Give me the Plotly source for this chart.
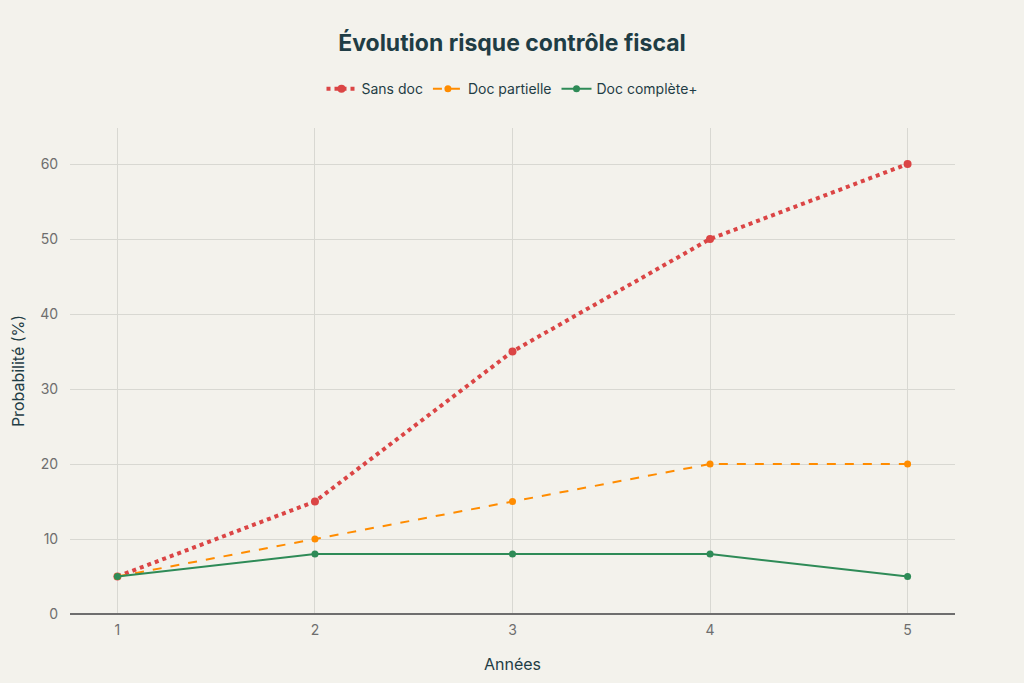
import plotly.graph_objects as go

years = [1, 2, 3, 4, 5]
sans_doc = [5, 15, 35, 50, 60]
doc_partielle = [5, 10, 15, 20, 20]
doc_complete = [5, 8, 8, 8, 5]

FONT = "Inter, Roboto, sans-serif"

fig = go.Figure()
fig.add_trace(go.Scatter(x=years, y=sans_doc, mode="lines+markers", name="Sans doc",
                         line=dict(color="#DB4545", width=4, dash="dot"),
                         marker=dict(size=8, color="#DB4545")))
fig.add_trace(go.Scatter(x=years, y=doc_partielle, mode="lines+markers", name="Doc partielle",
                         line=dict(color="#FF8C00", width=2, dash="dash"),
                         marker=dict(size=7, color="#FF8C00")))
fig.add_trace(go.Scatter(x=years, y=doc_complete, mode="lines+markers", name="Doc complète+",
                         line=dict(color="#2E8B57", width=2),
                         marker=dict(size=7, color="#2E8B57")))

fig.update_layout(
    width=1024, height=683,
    paper_bgcolor="#F3F2EC", plot_bgcolor="#F3F2EC",
    font=dict(family=FONT, size=14, color="#1F3D45"),
    title=dict(text="<b>Évolution risque contrôle fiscal</b>", x=0.5, xanchor="center",
               y=0.937, yanchor="middle", font=dict(size=23, color="#1F3D45")),
    legend=dict(orientation="h", x=0.5, xanchor="center", y=1.08, yanchor="middle",
                font=dict(size=14, color="#1F3D45"), bgcolor="rgba(0,0,0,0)",
                itemwidth=30),
    margin=dict(l=70, r=69, t=128, b=65),
    xaxis=dict(title=dict(text="Années", font=dict(size=16, color="#1F3D45"), standoff=22),
               range=[0.76, 5.24], tickvals=years, showgrid=True,
               gridcolor="#D8D8D2", zeroline=False, showline=False,
               tickfont=dict(color="#6E6E6E", size=14),
               ticks="outside", ticklen=3, tickcolor="rgba(0,0,0,0)"),
    yaxis=dict(title=dict(text="Probabilité (%)", font=dict(size=16, color="#1F3D45"), standoff=11),
               range=[0, 64.8], dtick=10, showgrid=True, gridcolor="#D8D8D2",
               zeroline=True, zerolinecolor="#6E6E6E", zerolinewidth=1.5,
               tickfont=dict(color="#6E6E6E", size=14),
               ticks="outside", ticklen=8, tickcolor="rgba(0,0,0,0)"),
)

fig.write_html("out.html", config={"displayModeBar": False},
               post_script="document.body.style.margin='0';document.body.style.background='#F3F2EC';")
